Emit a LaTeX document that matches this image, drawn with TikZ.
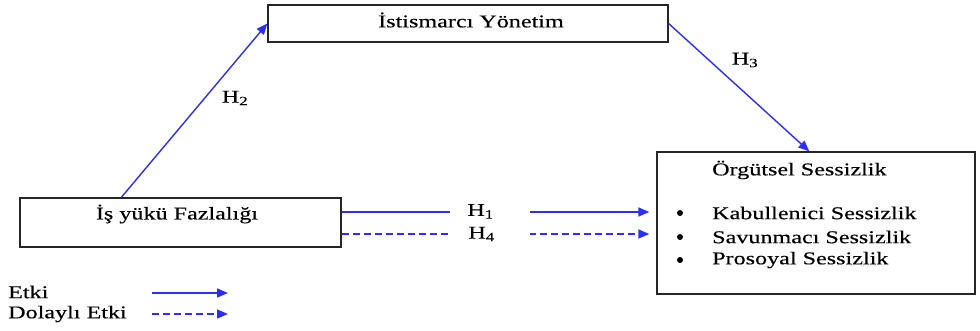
\documentclass[tikz,border=0pt]{standalone}
\usepackage{fontspec}
\setmainfont{Liberation Serif}[FakeStretch=1.34,FakeBold=0.3]
\usetikzlibrary{arrows.meta,calc}
\definecolor{arrblue}{RGB}{45,45,255}
\begin{document}
\begin{tikzpicture}[x=1pt,y=-1pt, font=\fontsize{18}{22}\selectfont,
  box/.style={draw=black!85, line width=1.3pt, inner sep=0pt},
  link/.style={draw=arrblue, line width=1.4pt, -{Triangle[length=11pt,width=9pt]}},
  dlink/.style={link, dash pattern=on 7pt off 4pt},
  lbl/.style={inner sep=0pt},
  dot/.style={circle, fill=black, inner sep=0pt, minimum size=6pt},
  gap/.style={fill=white, inner sep=0pt, minimum width=80pt, minimum height=18pt}]
\useasboundingbox (0,0) rectangle (980,330);
% boxes
\node[box, minimum width=400pt, minimum height=37pt] (top) at (468,23.5) {};
\node[lbl] (toptext) at (471,20) {İstismarcı Yönetim};
\node[box, minimum width=321pt, minimum height=49pt] (left) at (180.5,222.5) {};
\node[lbl] (lefttext) at (177,214) {İş yükü Fazlalığı};
\node[box, minimum width=318pt, minimum height=142pt] (right) at (816,223) {};
\node[lbl, anchor=west] (rhead) at (712,170) {Örgütsel Sessizlik};
\node[dot] (b1) at (680,213) {};
\node[dot] (b2) at (680,237) {};
\node[dot] (b3) at (680,260) {};
\node[lbl, anchor=west] (k1) at (712,213) {Kabullenici Sessizlik};
\node[lbl, anchor=west] (k2) at (712,237) {Savunmacı Sessizlik};
\node[lbl, anchor=west] (k3) at (712,260) {Prosoyal Sessizlik};
% connectors
\draw[link] ([xshift=102pt]left.north west) -- (top.west);
\node[lbl] (h2) at (235,98) {H\textsubscript{2}};
\draw[link] (top.east) -- ([xshift=153pt]right.north west);
\node[lbl] (h3) at (745,60) {H\textsubscript{3}};
\draw[link, shorten >=7pt] ([yshift=10.5pt]left.east) -- ([yshift=10.5pt]left.east -| right.west)
  node[gap, pos=0.47] (h1) {\hspace*{-18pt}\raisebox{4pt}{H\textsubscript{1}}};
\draw[dlink, shorten >=7pt] ([yshift=-11.5pt]left.east) -- ([yshift=-11.5pt]left.east -| right.west)
  node[gap, pos=0.47] (h4) {\hspace*{-16pt}\raisebox{-3pt}{H\textsubscript{4}}};
% legend
\node[lbl, anchor=west] (etki) at (8,292) {Etki};
\node[lbl, anchor=west] (detki) at (8,314) {Dolaylı Etki};
\coordinate (l1a) at (152,293);
\coordinate (l1b) at (228,293);
\coordinate (l2a) at (152,314);
\coordinate (l2b) at (228,314);
\draw[link] (l1a) -- (l1b);
\draw[dlink] (l2a) -- (l2b);
\end{tikzpicture}
\end{document}
